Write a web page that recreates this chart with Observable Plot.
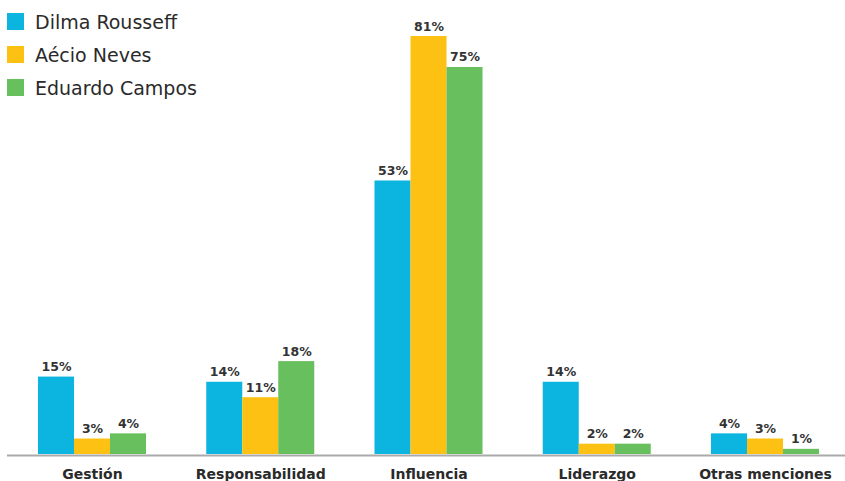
<!DOCTYPE html>
<html>
<head>
<meta charset="utf-8">
<script src="https://cdn.jsdelivr.net/npm/d3@7"></script>
<script src="https://cdn.jsdelivr.net/npm/@observablehq/plot@0.6"></script>
<style>
  html, body { margin: 0; padding: 0; background: #fff; }
  #wrap { position: relative; width: 845px; height: 481px; overflow: hidden; }
  #legend { position: absolute; left: 7px; top: 5px; font-family: "DejaVu Sans", sans-serif; font-size: 19px; color: #2a2a2a; }
  .item { display: flex; align-items: center; height: 33px; }
  .sw { width: 17px; height: 17px; margin-right: 11px; }
</style>
</head>
<body>
<div id="wrap"><div id="legend"></div></div>
<script>
const categories = ["Gestión", "Responsabilidad", "Influencia", "Liderazgo", "Otras menciones"];
const seriesNames = ["Dilma Rousseff", "Aécio Neves", "Eduardo Campos"];
const dilma = [15, 14, 53, 14, 4];
const aecio = [3, 11, 81, 2, 3];
const eduardo = [4, 18, 75, 2, 1];
const colors = ["#0cb4e0", "#fdc113", "#68bf5d"];

const seriesValues = [dilma, aecio, eduardo];
const rows = seriesValues.map((vals, s) => categories.map((c, i) => ({cat: c, value: vals[i], s})));

const bw = 36;
const marks = [];
rows.forEach((data, s) => {
  marks.push(Plot.barY(data, {
    x: "cat", y: "value", fill: colors[s],
    insetLeft: s * bw, insetRight: (2 - s) * bw
  }));
  marks.push(Plot.text(data, {
    x: "cat", y: "value", text: d => d.value + "%",
    dx: (s - 1) * bw, dy: -6, lineAnchor: "bottom",
    fontSize: 12.5, fontWeight: "bold", fill: "#333"
  }));
});
marks.push(Plot.ruleY([0], {stroke: "#aaa", strokeWidth: 2, dy: 1}));

const chart = Plot.plot({
  width: 845,
  height: 481,
  marginLeft: 7,
  marginRight: 0,
  marginTop: 0,
  marginBottom: 27,
  style: {fontFamily: "DejaVu Sans, sans-serif", background: "#fff", color: "#333"},
  x: {domain: categories, range: [38, 819], round: false, paddingInner: 0.358, paddingOuter: 0, label: null},
  y: {domain: [0, 81], range: [454, 36], axis: null},
  marks: [
    ...marks,
    Plot.axisX({tickSize: 0, tickPadding: 15, fontSize: 14, fontWeight: "bold", label: null, fill: "#2a2a2a"})
  ]
});
document.getElementById("wrap").prepend(chart);

const legend = document.getElementById("legend");
seriesNames.forEach((n, i) => {
  const it = document.createElement("div");
  it.className = "item";
  it.innerHTML = `<div class="sw" style="background:${colors[i]}"></div><span>${n}</span>`;
  legend.appendChild(it);
});
</script>
</body>
</html>
